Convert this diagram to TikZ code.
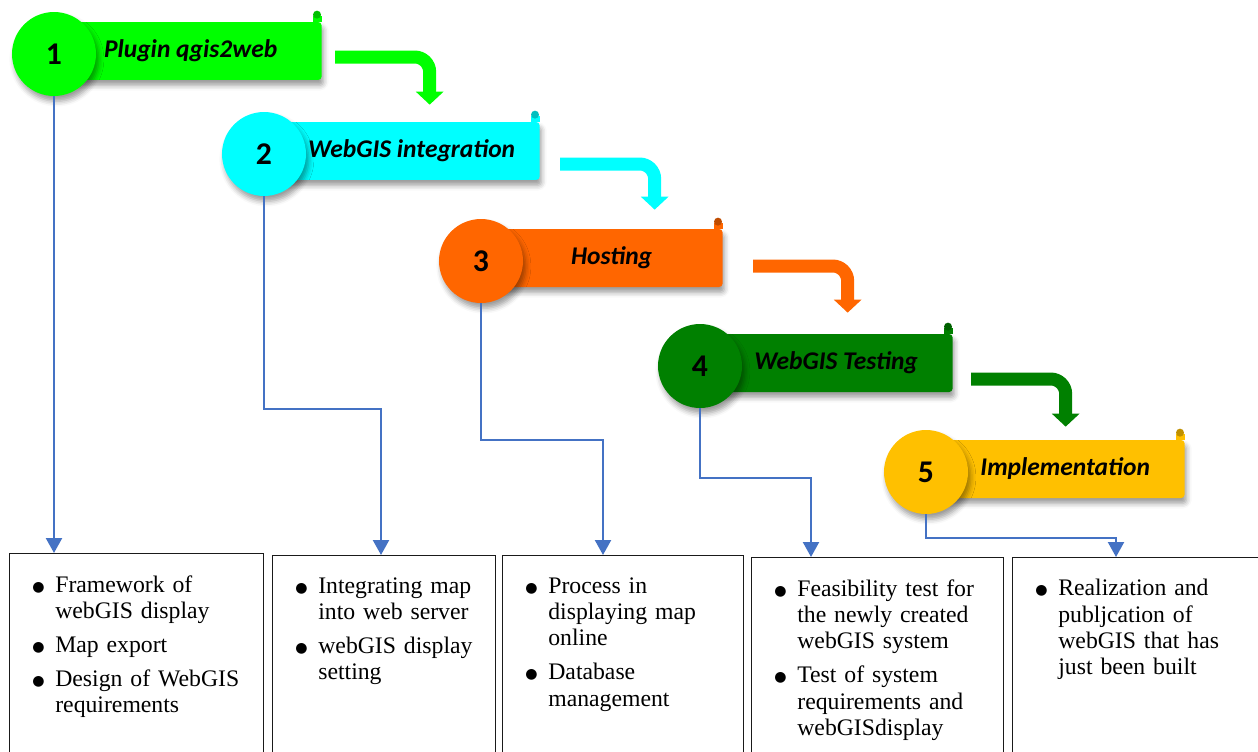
\documentclass[tikz,border=0pt]{standalone}
\usepackage{fontspec}
\setmainfont{Liberation Serif}
\newfontfamily\headfont{Carlito}
\newfontfamily\dotfont{DejaVu Sans}
\usepackage{xcolor}
\usepackage{tikz}
\usetikzlibrary{arrows.meta,calc,shadows.blur}
\definecolor{plugin}{HTML}{00FF00}
\definecolor{webgis}{HTML}{00FFFF}
\definecolor{hosting}{HTML}{FF6600}
\definecolor{testing}{HTML}{008000}
\definecolor{implem}{HTML}{FFC000}
\definecolor{link}{HTML}{4472C4}
\definecolor{ink}{HTML}{1A1A1A}
\newcommand{\bitem}[1]{{\let\\\newline\noindent\hangindent=0.46cm\makebox[0.46cm][l]{\raisebox{0.6pt}{\dotfont\fontsize{8}{8}\selectfont ●}}#1\par}}

\begin{document}
\begin{tikzpicture}[
    x=0.02cm, y=-0.02cm,
    stage/.style={circle, minimum size=1.68cm, inner sep=0pt, blur shadow={shadow xshift=1.5pt, shadow yshift=-3pt, shadow blur radius=3pt, shadow opacity=40}, font=\headfont\bfseries\fontsize{18}{20}\selectfont},
    banner/.style={rectangle, rounded corners=2pt, minimum height=1.16cm, anchor=east, blur shadow={shadow xshift=1pt, shadow yshift=-3pt, shadow blur radius=3pt, shadow opacity=40}, font=\headfont\bfseries\itshape\fontsize{14.5}{16}\selectfont},
    flow/.style={line width=0.26cm, rounded corners=0.3cm, -{Triangle[width=0.54cm,length=0.26cm]}},
    conn/.style={draw=link, line width=1.3pt, -{Triangle[width=0.32cm,length=0.3cm]}},
    frame/.style={draw=ink, line width=0.8pt, anchor=north west, minimum height=4.4cm},
    list/.style={anchor=north west, inner xsep=0.46cm, inner ysep=0.44cm, text width=4.2cm, font=\fontsize{13.5}{15}\selectfont, execute at begin node={\raggedright\setlength{\parskip}{4.3pt}}}
  ]
  \useasboundingbox (0,0) rectangle (1258,751);
  \clip (0,0) rectangle (1258,751);

  % Stages
  \node[banner, fill=plugin, minimum width=4.96cm] (ban1) at (322,51) {Plugin qgis2web\hspace*{8pt}};
  \fill[plugin] ($(ban1.north east)+(-9,0)$) rectangle ($(ban1.north east)+(0,-6)$);
  \fill[plugin!75!black] ($(ban1.north east)+(-5,-7)$) circle[radius=0.08cm];
  \node[stage, fill=plugin] (c1) at (54,54) {1};

  \node[banner, fill=webgis, minimum width=5.12cm] (ban2) at (540,151) {WebGIS integration};
  \fill[webgis] ($(ban2.north east)+(-9,0)$) rectangle ($(ban2.north east)+(0,-6)$);
  \fill[webgis!75!black] ($(ban2.north east)+(-5,-7)$) circle[radius=0.08cm];
  \node[stage, fill=webgis] (c2) at (264,154) {2};

  \node[banner, fill=hosting, minimum width=4.44cm] (ban3) at (723,258) {Hosting};
  \fill[hosting] ($(ban3.north east)+(-9,0)$) rectangle ($(ban3.north east)+(0,-6)$);
  \fill[hosting!75!black] ($(ban3.north east)+(-5,-7)$) circle[radius=0.08cm];
  \node[stage, fill=hosting] (c3) at (481,261) {3};

  \node[banner, fill=testing, minimum width=4.66cm] (ban4) at (953,363) {WebGIS Testing};
  \fill[testing] ($(ban4.north east)+(-9,0)$) rectangle ($(ban4.north east)+(0,-6)$);
  \fill[testing!75!black] ($(ban4.north east)+(-5,-7)$) circle[radius=0.08cm];
  \node[stage, fill=testing] (c4) at (700,366) {4};

  \node[banner, fill=implem, minimum width=4.78cm] (ban5) at (1185,469) {Implementation};
  \fill[implem] ($(ban5.north east)+(-9,0)$) rectangle ($(ban5.north east)+(0,-6)$);
  \fill[implem!75!black] ($(ban5.north east)+(-5,-7)$) circle[radius=0.08cm];
  \node[stage, fill=implem] (c5) at (926,472) {5};

  % Flow between stages
  \draw[flow, draw=plugin] ($(ban1.east)+(13,6)$) -| ($(ban2.north)+(18,-17)$);
  \draw[flow, draw=webgis] ($(ban2.east)+(20,13)$) -| ($(ban3.north)+(43,-19)$);
  \draw[flow, draw=hosting] ($(ban3.east)+(30,8)$) -| ($(ban4.north)+(11.5,-21)$);
  \draw[flow, draw=testing] ($(ban4.east)+(18,16)$) -| ($(ban5.north)+(0.5,-13)$);

  % Detail boxes
  \node[frame, minimum width=5.08cm] (box1) at (9,553) {};
  \node[frame, minimum width=4.46cm] (box2) at (272,555) {};
  \node[frame, minimum width=4.82cm] (box3) at (502,555) {};
  \node[frame, minimum width=5.04cm] (box4) at (751,557) {};
  \node[frame, minimum width=5.4cm] (box5) at (1012,557) {};

  \node[list] (txt1) at (box1.north west) {\bitem{Framework of\\webGIS display}\bitem{Map export}\bitem{Design of WebGIS\\requirements}};
  \node[list] (txt2) at (box2.north west) {\bitem{Integrating map\\into web server}\bitem{webGIS display\\setting}};
  \node[list] (txt3) at (box3.north west) {\bitem{Process in\\displaying map\\online}\bitem{Database\\management}};
  \node[list] (txt4) at (box4.north west) {\bitem{Feasibility test for\\the newly created\\webGIS system}\bitem{Test of system\\requirements and\\webGISdisplay}};
  \node[list] (txt5) at (box5.north west) {\bitem{Realization and\\publjcation of\\webGIS that has\\just been built}};

  % Links to boxes
  \draw[conn] (c1.south) -- (c1.south |- box1.north);
  \draw[conn] (c2.south) |- (381,409) -- (381,0 |- box2.north);
  \draw[conn] (c3.south) |- (603,440) -- (603,0 |- box3.north);
  \draw[conn] (c4.south) |- (811,478) -- (811,0 |- box4.north);
  \draw[conn] (c5.south) |- (1116,538) -- (1116,0 |- box5.north);
\end{tikzpicture}
\end{document}
